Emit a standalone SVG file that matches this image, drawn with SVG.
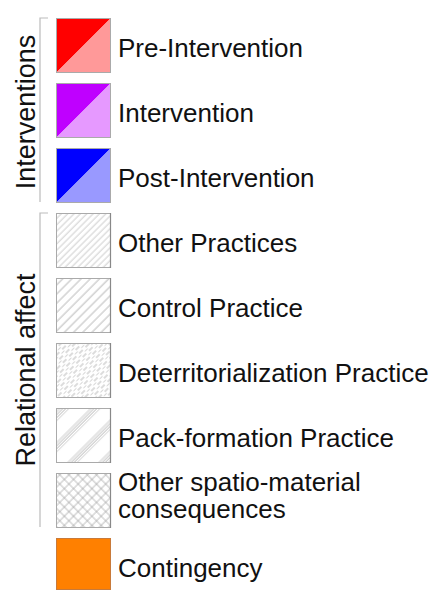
<svg xmlns="http://www.w3.org/2000/svg" width="436" height="592" viewBox="0 0 436 592">
<style>
text{font-family:"Liberation Sans",Arial,sans-serif;font-size:26px;fill:#111}
text.rot{font-size:27px}
.box{stroke:#aaa;stroke-width:1}
.edge{stroke:#888;stroke-width:1.2}
.br{fill:none;stroke:#bbb;stroke-width:1.2}
</style>
<defs>
<pattern id="pOther" width="4.5" height="10" patternUnits="userSpaceOnUse" patternTransform="rotate(45)">
<line x1="1" y1="0" x2="1" y2="10" stroke="#aaa" stroke-width="0.6"/>
</pattern>
<pattern id="pControl" width="6.5" height="10" patternUnits="userSpaceOnUse" patternTransform="rotate(45)">
<line x1="1" y1="0" x2="1" y2="10" stroke="#999" stroke-width="0.7"/>
</pattern>
<pattern id="pDeterr" width="5" height="9" patternUnits="userSpaceOnUse" patternTransform="rotate(45)">
<line x1="1" y1="0" x2="1" y2="5" stroke="#999" stroke-width="0.7"/>
<line x1="3.5" y1="4.5" x2="3.5" y2="8.5" stroke="#bbb" stroke-width="0.6"/>
</pattern>
<pattern id="pPack" width="22" height="10" patternUnits="userSpaceOnUse" patternTransform="rotate(45)">
<line x1="1" y1="0" x2="1" y2="10" stroke="#aaa" stroke-width="0.6"/>
<line x1="3.2" y1="0" x2="3.2" y2="10" stroke="#999" stroke-width="0.6"/>
<line x1="5.4" y1="0" x2="5.4" y2="10" stroke="#999" stroke-width="0.6"/>
<line x1="7.6" y1="0" x2="7.6" y2="10" stroke="#bbb" stroke-width="0.6"/>
</pattern>
<pattern id="pCross" width="6.5" height="6.5" patternUnits="userSpaceOnUse" patternTransform="rotate(45)">
<line x1="1" y1="0" x2="1" y2="6.5" stroke="#999" stroke-width="0.6"/>
<line x1="0" y1="1" x2="6.5" y2="1" stroke="#999" stroke-width="0.6"/>
</pattern>
</defs>

<g id="brackets">
<path class="br" d="M48,18 H40 V202"/>
<path class="br" d="M48,213 H40 V527"/>
<text class="rot" transform="translate(35,112) rotate(-90)" text-anchor="middle">Interventions</text>
<text class="rot" transform="translate(35,370) rotate(-90)" text-anchor="middle">Relational affect</text>
</g>

<g id="pre-intervention">
<polygon points="56,18 111,18 56,73" fill="#ff0000"/>
<polygon points="111,18 111,73 56,73" fill="#ff9999"/>
<rect class="box" x="56.5" y="18.5" width="54" height="54" fill="none"/>
<text x="118" y="57">Pre-Intervention</text>
</g>
<g id="intervention">
<polygon points="56,83 111,83 56,138" fill="#bf00ff"/>
<polygon points="111,83 111,138 56,138" fill="#e699ff"/>
<rect class="box" x="56.5" y="83.5" width="54" height="54" fill="none"/>
<text x="118" y="122">Intervention</text>
</g>
<g id="post-intervention">
<polygon points="56,148 111,148 56,203" fill="#0000ff"/>
<polygon points="111,148 111,203 56,203" fill="#9999ff"/>
<rect class="box" x="56.5" y="148.5" width="54" height="54" fill="none"/>
<text x="118" y="187">Post-Intervention</text>
</g>
<g id="other-practices">
<rect class="box" x="56.5" y="213.5" width="54" height="54" fill="url(#pOther)"/>
<line class="edge" x1="110.5" y1="213" x2="110.5" y2="268"/>
<text x="118" y="252">Other Practices</text>
</g>
<g id="control-practice">
<rect class="box" x="56.5" y="278.5" width="54" height="54" fill="url(#pControl)"/>
<line class="edge" x1="110.5" y1="278" x2="110.5" y2="333"/>
<text x="118" y="317">Control Practice</text>
</g>
<g id="deterritorialization-practice">
<rect class="box" x="56.5" y="343.5" width="54" height="54" fill="url(#pDeterr)"/>
<line class="edge" x1="110.5" y1="343" x2="110.5" y2="398"/>
<text x="118" y="382">Deterritorialization Practice</text>
</g>
<g id="pack-formation-practice">
<rect class="box" x="56.5" y="408.5" width="54" height="54" fill="url(#pPack)"/>
<line class="edge" x1="110.5" y1="408" x2="110.5" y2="463"/>
<text x="118" y="447">Pack-formation Practice</text>
</g>
<g id="other-spatio-material">
<rect class="box" x="56.5" y="473.5" width="54" height="54" fill="url(#pCross)"/>
<line class="edge" x1="110.5" y1="473" x2="110.5" y2="528"/>
<text x="118" y="491">Other spatio-material</text>
<text x="118" y="518">consequences</text>
</g>
<g id="contingency">
<rect x="56.5" y="538.5" width="54" height="51" fill="#ff8000" stroke="#c87a3a" stroke-width="1"/>
<text x="118" y="577">Contingency</text>
</g>
</svg>
